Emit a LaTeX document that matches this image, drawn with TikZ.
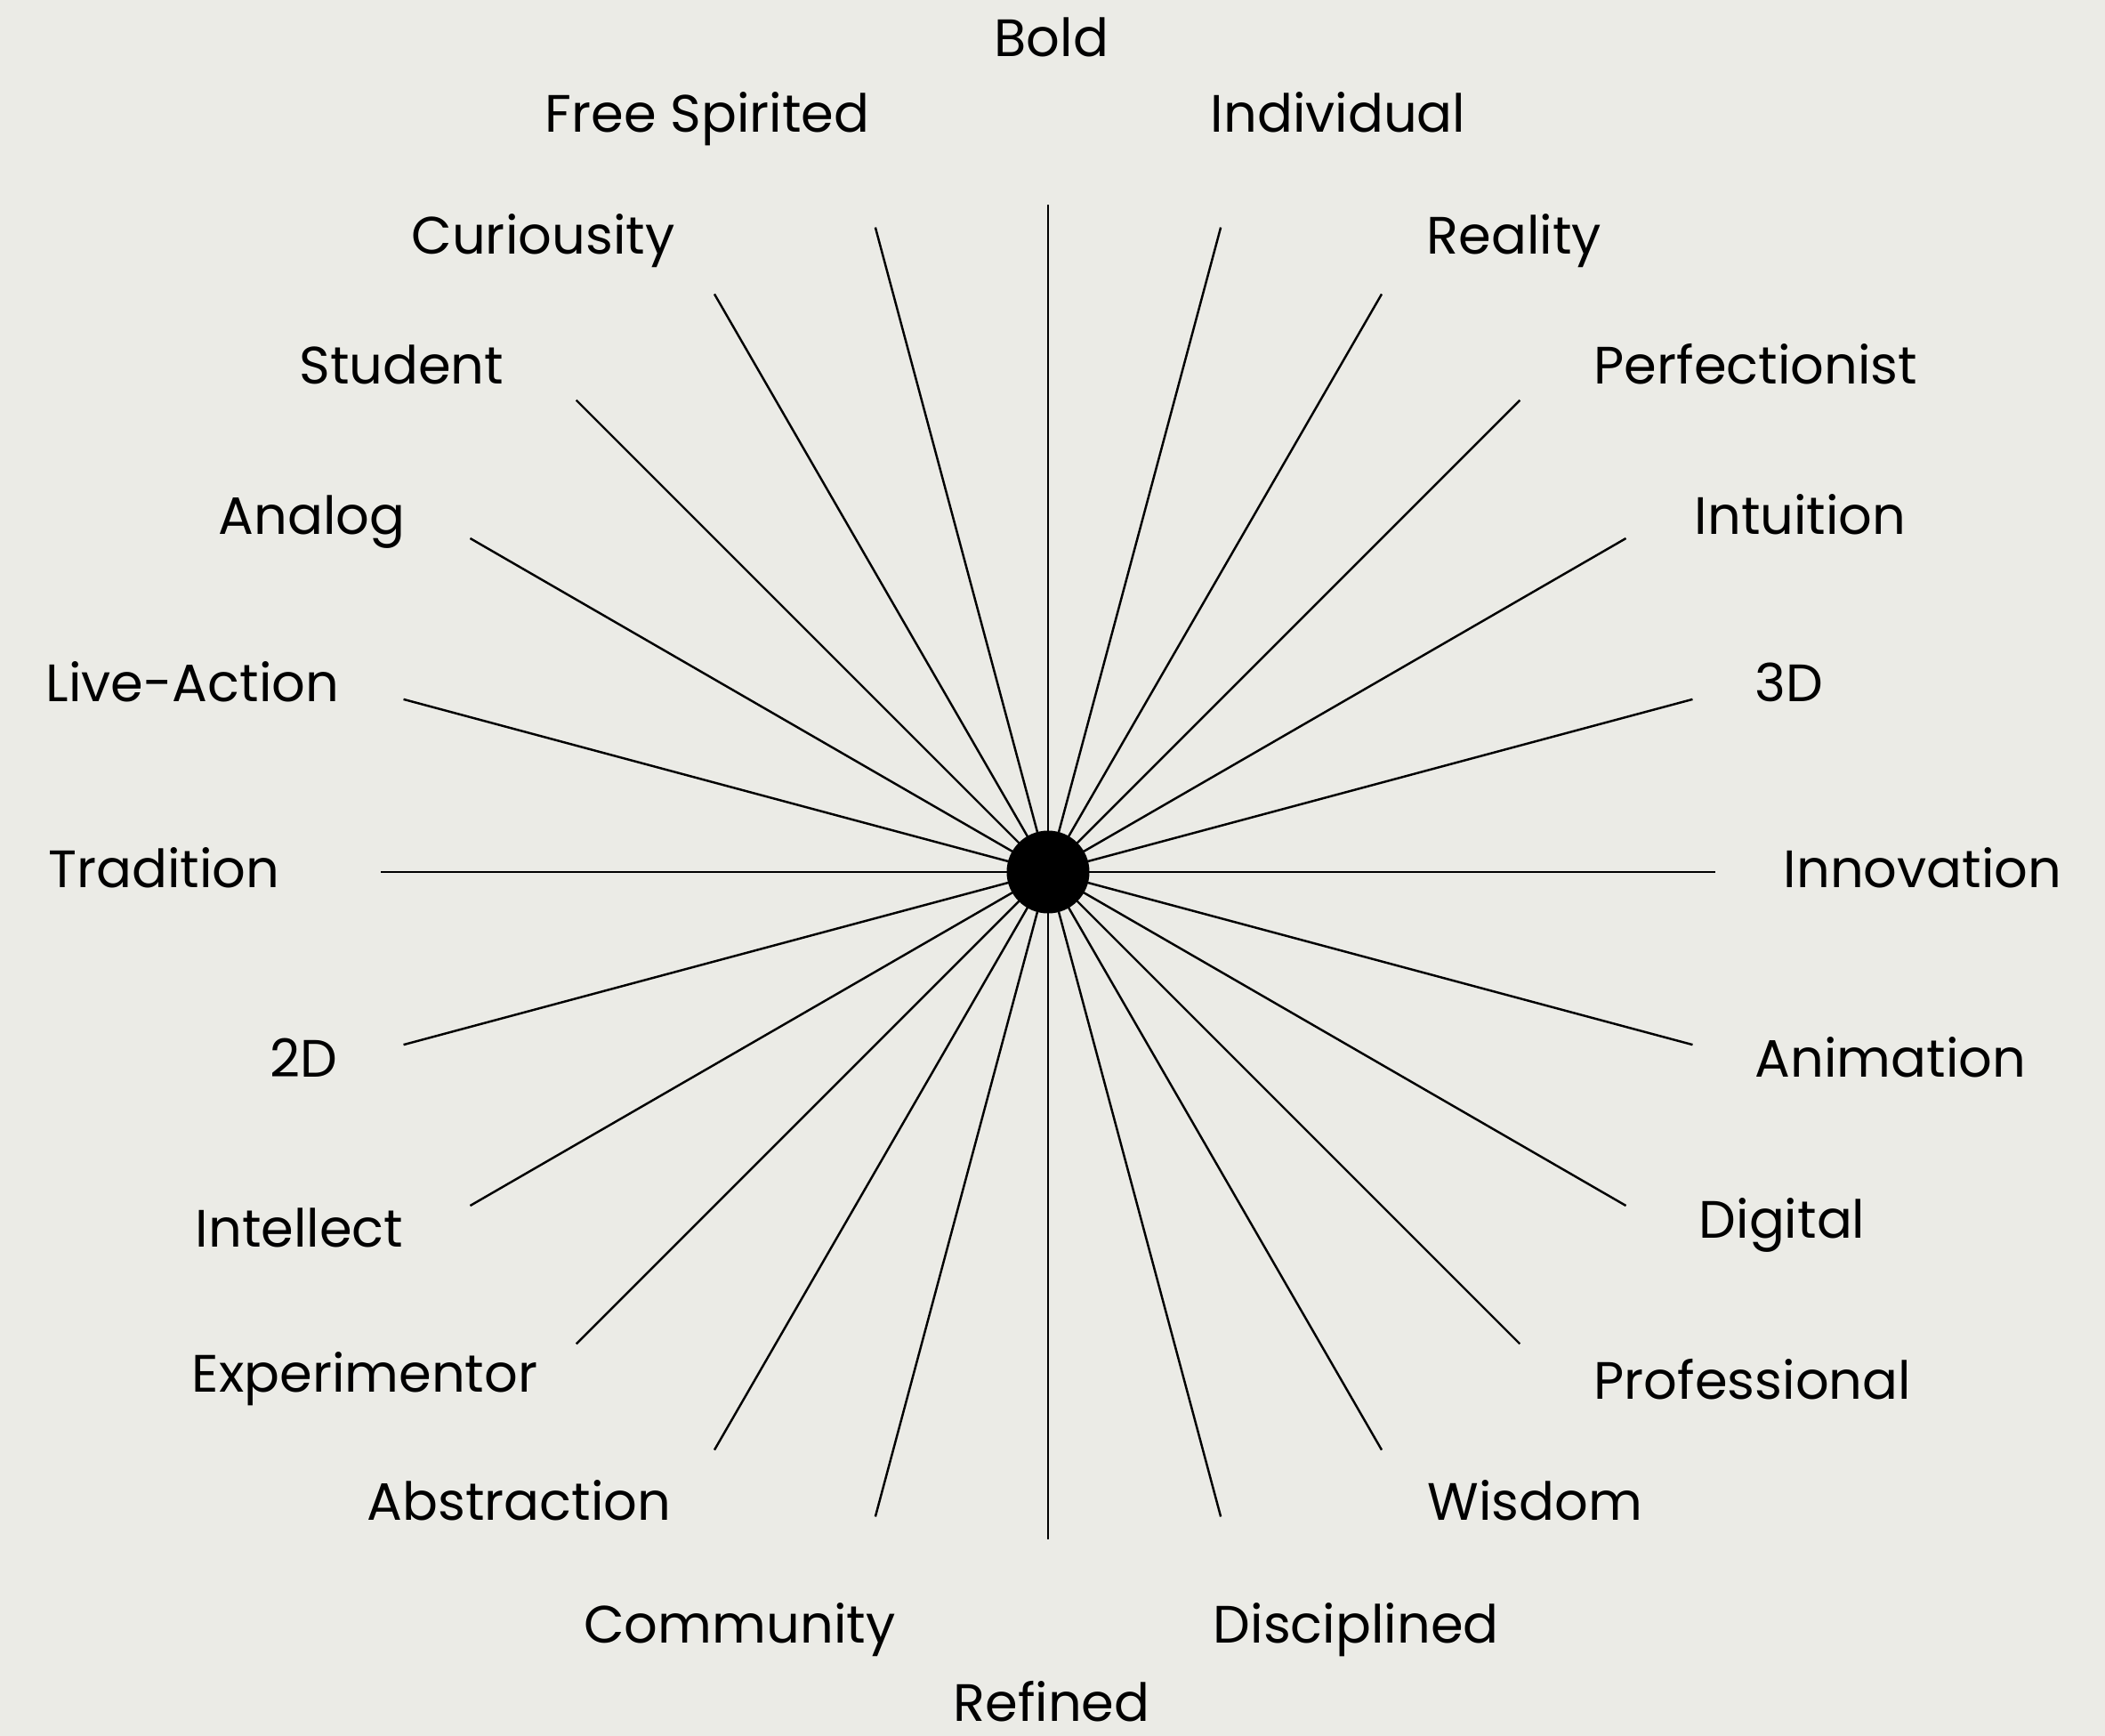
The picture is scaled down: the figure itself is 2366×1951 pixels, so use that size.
\documentclass[tikz,border=0pt]{standalone}
\usepackage{fontspec}
\setmainfont{Poppins}
\usetikzlibrary{positioning}
\definecolor{paper}{RGB}{235,235,230}

\begin{document}
\begin{tikzpicture}[x=0.01cm,y=-0.01cm,
                    word/.style={font=\fontsize{16.8}{19}\selectfont, inner sep=0pt},
                    spoke/.style={line width=0.7pt, black},
                    hubdot/.style={circle, fill=black, inner sep=0pt, minimum size=0.93cm}]
  % background
  \fill[paper] (0,0) rectangle (2366,1951);
  \coordinate (hub) at (1178,980);
  % spokes
  \foreach \a in {0,15,...,345} {
    \path (hub) ++(\a:750) coordinate (end\a);
    \draw[spoke] (hub) -- (end\a);
  }
  \node[hubdot] (dot) at (hub) {};
  % top and bottom
  \node[word, anchor=base] (bold) at (1182,63) {Bold};
  \node[word, anchor=base] (refined) at (1182,1934) {Refined};
  % right side
  \node[word, anchor=base west] (individual) at (1360,148) {Individual};
  \node[word, anchor=base west] (reality) at (1603,285) {Reality};
  \node[word, anchor=base west] (perfectionist) at (1791,431) {Perfectionist};
  \node[word, anchor=base west] (intuition) at (1904,600) {Intuition};
  \node[word, anchor=base west] (threed) at (1972,788) {3D};
  \node[word, anchor=base west] (innovation) at (2004,997) {Innovation};
  \node[word, anchor=base west] (animation) at (1972,1210) {Animation};
  \node[word, anchor=base west] (digital) at (1909,1391) {Digital};
  \node[word, anchor=base west] (professional) at (1791,1572) {Professional};
  \node[word, anchor=base west] (wisdom) at (1604,1708) {Wisdom};
  \node[word, anchor=base west] (disciplined) at (1363,1846) {Disciplined};
  % left side
  \node[word, anchor=base east] (freespirited) at (978,148) {Free Spirited};
  \node[word, anchor=base east] (curiousity) at (759,285) {Curiousity};
  \node[word, anchor=base east] (student) at (567,431) {Student};
  \node[word, anchor=base east] (analog) at (456,600) {Analog};
  \node[word, anchor=base east] (liveaction) at (382,788) {Live-Action};
  \node[word, anchor=base east] (tradition) at (315,997) {Tradition};
  \node[word, anchor=base east] (twod) at (380,1210) {2D};
  \node[word, anchor=base east] (intellect) at (454,1401) {Intellect};
  \node[word, anchor=base east] (experimentor) at (605,1564) {Experimentor};
  \node[word, anchor=base east] (abstraction) at (755,1708) {Abstraction};
  \node[word, anchor=base east] (community) at (1007,1846) {Community};
\end{tikzpicture}
\end{document}
